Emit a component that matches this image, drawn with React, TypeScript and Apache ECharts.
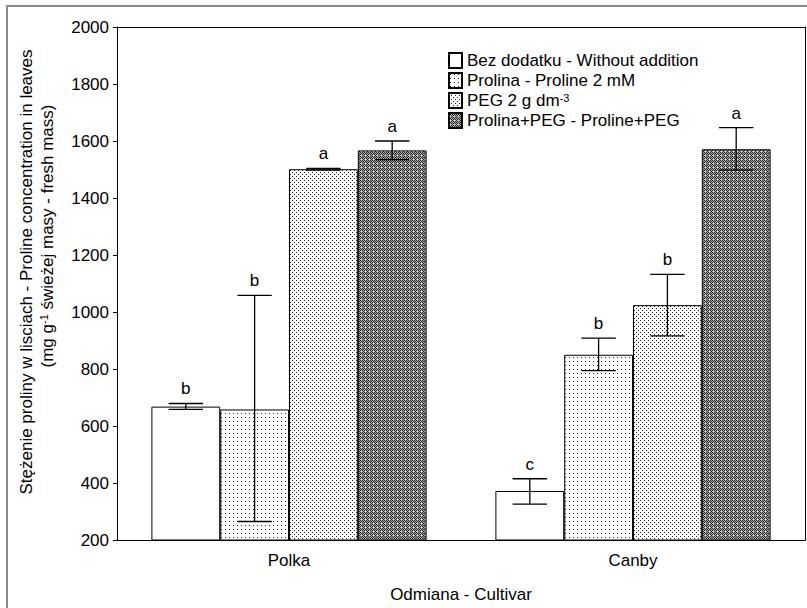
import React, { useEffect, useRef } from "react";
import * as echarts from "echarts";

const categories = ["Polka", "Canby"];
const seriesNames = [
  "Bez dodatku - Without addition",
  "Prolina - Proline 2 mM",
  "PEG 2 g dm-3",
  "Prolina+PEG - Proline+PEG",
];
const bezDodatku = [668, 372];
const prolina = [658, 850];
const peg = [1501, 1024];
const prolinaPeg = [1567, 1571];
const errLow = [
  [658, 326],
  [265, 794],
  [1498, 916],
  [1535, 1498],
];
const errHigh = [
  [679, 415],
  [1058, 908],
  [1504, 1132],
  [1600, 1647],
];
const letters = [
  ["b", "c"],
  ["b", "b"],
  ["a", "b"],
  ["a", "a"],
];
const yTicks = { min: 200, max: 2000, interval: 200 };

const FONT = "'Liberation Sans', Arial, sans-serif";

function makePattern(size: number, draw: (ctx: CanvasRenderingContext2D) => void) {
  const c = document.createElement("canvas");
  c.width = size;
  c.height = size;
  const ctx = c.getContext("2d")!;
  draw(ctx);
  return { image: c, repeat: "repeat", imageWidth: size, imageHeight: size } as any;
}

export default function App() {
  const ref = useRef<HTMLDivElement>(null);
  useEffect(() => {
    if (!ref.current) return;
    const chart = echarts.init(ref.current, null, { renderer: "svg" });

    const pWhite = "#ffffff";
    const pSparse = makePattern(4, (ctx) => {
      ctx.fillStyle = "#fff";
      ctx.fillRect(0, 0, 4, 4);
      ctx.fillStyle = "#222";
      ctx.fillRect(1, 1, 1, 1);
    });
    const pDense = makePattern(4, (ctx) => {
      ctx.fillStyle = "#fff";
      ctx.fillRect(0, 0, 4, 4);
      ctx.fillStyle = "#222";
      ctx.fillRect(0, 0, 1, 1);
      ctx.fillRect(2, 2, 1, 1);
    });
    const pDark = makePattern(4, (ctx) => {
      ctx.fillStyle = "#a8a8a8";
      ctx.fillRect(0, 0, 4, 4);
      ctx.fillStyle = "#2a2a2a";
      ctx.fillRect(0, 0, 1, 1);
      ctx.fillRect(2, 0, 1, 1);
      ctx.fillRect(1, 1, 1, 1);
      ctx.fillRect(3, 1, 1, 1);
      ctx.fillRect(0, 2, 1, 1);
      ctx.fillRect(2, 2, 1, 1);
      ctx.fillStyle = "#e8e8e8";
      ctx.fillRect(1, 3, 1, 1);
      ctx.fillStyle = "#2a2a2a";
      ctx.fillRect(3, 3, 1, 1);
    });
    const fills = [pWhite, pSparse, pDense, pDark];
    const values = [bezDodatku, prolina, peg, prolinaPeg];

    const errData: number[][] = [];
    for (let s = 0; s < 4; s++) {
      for (let c = 0; c < categories.length; c++) {
        errData.push([c, s, errLow[s][c], errHigh[s][c]]);
      }
    }

    const barSeries = values.map((v, i) => ({
      name: seriesNames[i],
      type: "bar",
      data: v,
      barGap: "0%",
      barCategoryGap: "20%",
      itemStyle: { color: fills[i], borderColor: "#000", borderWidth: 1 },
      emphasis: { disabled: true },
    }));

    const option: any = {
      animation: false,
      textStyle: { fontFamily: FONT },
      grid: { left: 117, top: 27, right: 2, bottom: 65, containLabel: false },
      legend: {
        orient: "vertical",
        left: 448,
        top: 52,
        padding: 0,
        itemWidth: 13,
        itemHeight: 15,
        itemGap: 3,
        icon: "rect",
        selectedMode: false,
        data: seriesNames,
        formatter: (name: string) =>
          name === "PEG 2 g dm-3" ? "PEG 2 g dm{sup|-3}" : name,
        textStyle: {
          fontFamily: FONT,
          fontSize: 17,
          lineHeight: 17,
          color: "#000",
          rich: {
            sup: { fontSize: 11, lineHeight: 11, verticalAlign: "top", fontFamily: FONT, color: "#000" },
          },
        },
      },
      xAxis: [
        {
          type: "category",
          data: categories,
          position: "bottom",
          axisLine: { lineStyle: { color: "#000", width: 1 } },
          axisTick: { alignWithLabel: true, length: 4, lineStyle: { color: "#000" } },
          axisLabel: { color: "#000", fontSize: 17, margin: 12, fontFamily: FONT },
          name: "Odmiana - Cultivar",
          nameLocation: "middle",
          nameGap: 46,
          nameTextStyle: { color: "#000", fontSize: 17, fontFamily: FONT },
        },
        {
          type: "category",
          data: categories,
          position: "top",
          axisLine: { lineStyle: { color: "#000", width: 1 } },
          axisTick: { alignWithLabel: true, inside: true, length: 4, lineStyle: { color: "#000" } },
          axisLabel: { show: false },
        },
      ],
      yAxis: [
        {
          type: "value",
          min: yTicks.min,
          max: yTicks.max,
          interval: yTicks.interval,
          axisLine: { show: true, lineStyle: { color: "#000", width: 1 } },
          axisTick: { show: true, length: 4, lineStyle: { color: "#000" } },
          axisLabel: {
            color: "#000",
            fontSize: 17,
            margin: 8,
            fontFamily: FONT,
            formatter: (v: number) => String(v),
          },
          splitLine: { show: false },
        },
        {
          type: "value",
          min: yTicks.min,
          max: yTicks.max,
          interval: yTicks.interval,
          position: "right",
          axisLine: { show: true, lineStyle: { color: "#000", width: 1 } },
          axisTick: { show: false },
          axisLabel: { show: false },
          splitLine: { show: false },
        },
      ],
      graphic: [
        {
          type: "rect",
          shape: { x: 7, y: 6, width: 900, height: 700 },
          style: { fill: "none", stroke: "#8a8a8a", lineWidth: 2 },
          silent: true,
        },
        {
          type: "text",
          x: 26,
          y: 272,
          rotation: Math.PI / 2,
          style: {
            text: "Stężenie proliny w lisciach - Proline concentration in leaves",
            fontSize: 17,
            fontFamily: FONT,
            fill: "#000",
            align: "center",
            verticalAlign: "middle",
          },
        },
        {
          type: "text",
          x: 47,
          y: 236,
          rotation: Math.PI / 2,
          style: {
            text: "(mg g{sup|-1} świeżej masy - fresh mass)",
            fontSize: 17,
            lineHeight: 17,
            fontFamily: FONT,
            fill: "#000",
            align: "center",
            verticalAlign: "middle",
            rich: {
              sup: { fontSize: 11, lineHeight: 11, fontFamily: FONT, fill: "#000", verticalAlign: "top" },
            },
          },
        },
      ],
      series: [
        ...barSeries,
        {
          type: "custom",
          xAxisIndex: 0,
          yAxisIndex: 0,
          data: errData,
          encode: { x: 0, y: [2, 3] },
          silent: true,
          z: 10,
          renderItem: (params: any, api: any) => {
            const cat = api.value(0);
            const sub = api.value(1);
            const lo = api.value(2);
            const hi = api.value(3);
            const center = api.coord([cat, 0])[0];
            const bandW = api.size([1, 0])[0];
            const barW = (bandW * 0.8) / 4;
            const cx = center + (sub - 1.5) * barW;
            const capH = barW * 0.25;
            const yLo = api.coord([cat, lo])[1];
            const yHi = api.coord([cat, hi])[1];
            const ls = { stroke: "#000", lineWidth: 1.3 };
            return {
              type: "group",
              children: [
                { type: "line", shape: { x1: cx, y1: yLo, x2: cx, y2: yHi }, style: ls },
                { type: "line", shape: { x1: cx - capH, y1: yLo, x2: cx + capH, y2: yLo }, style: ls },
                { type: "line", shape: { x1: cx - capH, y1: yHi, x2: cx + capH, y2: yHi }, style: ls },
                {
                  type: "text",
                  x: cx,
                  y: yHi - 6,
                  style: {
                    text: letters[sub][cat],
                    fontSize: 17,
                    fontFamily: FONT,
                    fill: "#000",
                    align: "center",
                    verticalAlign: "bottom",
                  },
                },
              ],
            };
          },
        },
      ],
    };
    chart.setOption(option);
    return () => chart.dispose();
  }, []);

  return (
    <div
      ref={ref}
      style={{ position: "fixed", left: 0, top: 0, width: 807, height: 608, background: "#fff" }}
    />
  );
}
